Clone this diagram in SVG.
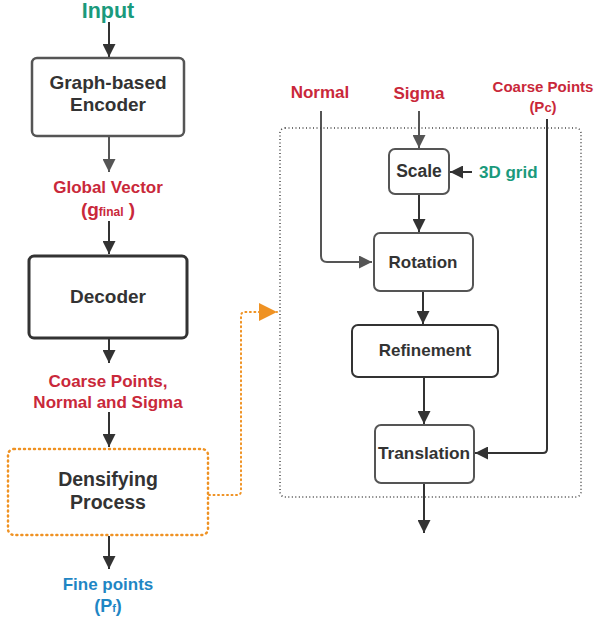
<svg xmlns="http://www.w3.org/2000/svg" width="597" height="619" viewBox="0 0 597 619">
<defs>
<style>
text{font-family:"Liberation Sans",Arial,sans-serif;font-weight:bold;text-anchor:middle}
.lbl{font-size:19px;fill:#333}
.lbs{font-size:17px;fill:#333}
.red{fill:#c9283a;font-size:17px}
.teal{fill:#1a9a7c}
.blue{fill:#1f86c4;font-size:17px}
.box{fill:#fff;stroke:#555;stroke-width:2.5}
.dark{stroke:#333}
.line{fill:none;stroke:#333;stroke-width:2}
.gline{fill:none;stroke:#555;stroke-width:2}
</style>
<marker id="ah" viewBox="0 0 10 10" refX="10" refY="5" markerWidth="6.5" markerHeight="6.5" orient="auto" markerUnits="strokeWidth"><path d="M0,0L10,5L0,10z" fill="#333"/></marker>
<marker id="ahg" viewBox="0 0 10 10" refX="10" refY="5" markerWidth="6.5" markerHeight="6.5" orient="auto" markerUnits="strokeWidth"><path d="M0,0L10,5L0,10z" fill="#555"/></marker>
<marker id="aho" viewBox="0 0 10 10" refX="10" refY="5" markerWidth="9" markerHeight="9" orient="auto" markerUnits="strokeWidth"><path d="M0,0L10,5L0,10z" fill="#ef9223"/></marker>
</defs>

<g id="connectors">
<path class="line" d="M109,22V57" marker-end="url(#ah)"/>
<path class="gline" d="M109,137V172" marker-end="url(#ahg)"/>
<path class="line" d="M109,221V254" marker-end="url(#ah)"/>
<path class="line" d="M109,339V363" marker-end="url(#ah)"/>
<path class="line" d="M109,412V447" marker-end="url(#ah)"/>
<path class="line" d="M109,536V569" marker-end="url(#ah)"/>
<path d="M209,495H237Q241,495 241,491V316Q241,312 245,312H277" fill="none" stroke="#ef9223" stroke-width="2" stroke-dasharray="1,3.5" stroke-linecap="round" marker-end="url(#aho)"/>
<path class="gline" d="M419,111V148" marker-end="url(#ahg)"/>
<path class="gline" d="M321,111V256Q321,262 327,262H372" marker-end="url(#ahg)"/>
<path class="line" d="M472,172H450" marker-end="url(#ah)"/>
<path class="line" d="M419,195V232" marker-end="url(#ah)"/>
<path class="line" d="M423,292V324" marker-end="url(#ah)"/>
<path class="line" d="M424,378V424" marker-end="url(#ah)"/>
<path class="line" d="M547,119V449Q547,453 543,453H475" marker-end="url(#ah)"/>
<path class="line" d="M424,484V533" marker-end="url(#ah)"/>
</g>

<g id="input"><text x="108" y="18" class="teal" style="font-size:21.5px">Input</text></g>

<g id="encoder">
<rect x="32" y="58" width="152" height="78" rx="5" class="box"/>
<text x="108" y="89" class="lbl">Graph-based</text>
<text x="108" y="111" class="lbl">Encoder</text>
</g>

<g id="global-vector">
<text x="108" y="193" class="red">Global Vector</text>
<text x="108" y="216" class="red"><tspan style="font-size:19px">(g</tspan><tspan style="font-size:12px">final</tspan><tspan style="font-size:19px"> )</tspan></text>
</g>

<g id="decoder">
<rect x="29" y="256" width="158" height="82" rx="5" class="box dark" style="stroke-width:3"/>
<text x="108" y="303" class="lbl">Decoder</text>
</g>

<g id="coarse-label">
<text x="108" y="387" class="red">Coarse Points,</text>
<text x="108" y="408" class="red">Normal and Sigma</text>
</g>

<g id="densifying">
<rect x="8" y="449" width="200" height="86" rx="6" fill="#fff" stroke="#ef9223" stroke-width="2.5" stroke-dasharray="1,4" stroke-linecap="round"/>
<text x="108" y="486" class="lbl" style="font-size:19.5px">Densifying</text>
<text x="108" y="509" class="lbl" style="font-size:19.5px">Process</text>
</g>

<g id="fine-points">
<text x="108" y="590" class="blue">Fine points</text>
<text x="108" y="612" class="blue"><tspan style="font-size:18px">(P</tspan><tspan style="font-size:11px">f</tspan><tspan style="font-size:18px">)</tspan></text>
</g>

<g id="container">
<rect x="280" y="128" width="301" height="369" rx="5" fill="none" stroke="#444" stroke-width="1.5" stroke-dasharray="1,2.5"/>
</g>

<g id="normal"><text x="320" y="98" class="red">Normal</text></g>
<g id="sigma"><text x="419" y="99" class="red">Sigma</text></g>
<g id="coarse-points">
<text x="543" y="92" class="red" style="font-size:15px">Coarse Points</text>
<text x="543" y="112" class="red" style="font-size:15px">(P<tspan style="font-size:13px">c</tspan>)</text>
</g>

<g id="scale">
<rect x="389" y="149" width="60" height="45" rx="6" class="box" style="stroke-width:2"/>
<text x="419" y="177" class="lbs" style="font-size:17.5px">Scale</text>
</g>
<g id="grid"><text x="479" y="178" class="teal" style="font-size:17px;text-anchor:start">3D grid</text></g>

<g id="rotation">
<rect x="374" y="233" width="99" height="58" rx="6" class="box" style="stroke-width:2"/>
<text x="423" y="268" class="lbs">Rotation</text>
</g>

<g id="refinement">
<rect x="352" y="325" width="146" height="52" rx="6" class="box dark" style="stroke-width:2"/>
<text x="425" y="356" class="lbs">Refinement</text>
</g>

<g id="translation">
<rect x="375" y="425" width="99" height="58" rx="6" class="box" style="stroke-width:2"/>
<text x="424" y="459" class="lbs" style="font-size:17.3px">Translation</text>
</g>
</svg>
